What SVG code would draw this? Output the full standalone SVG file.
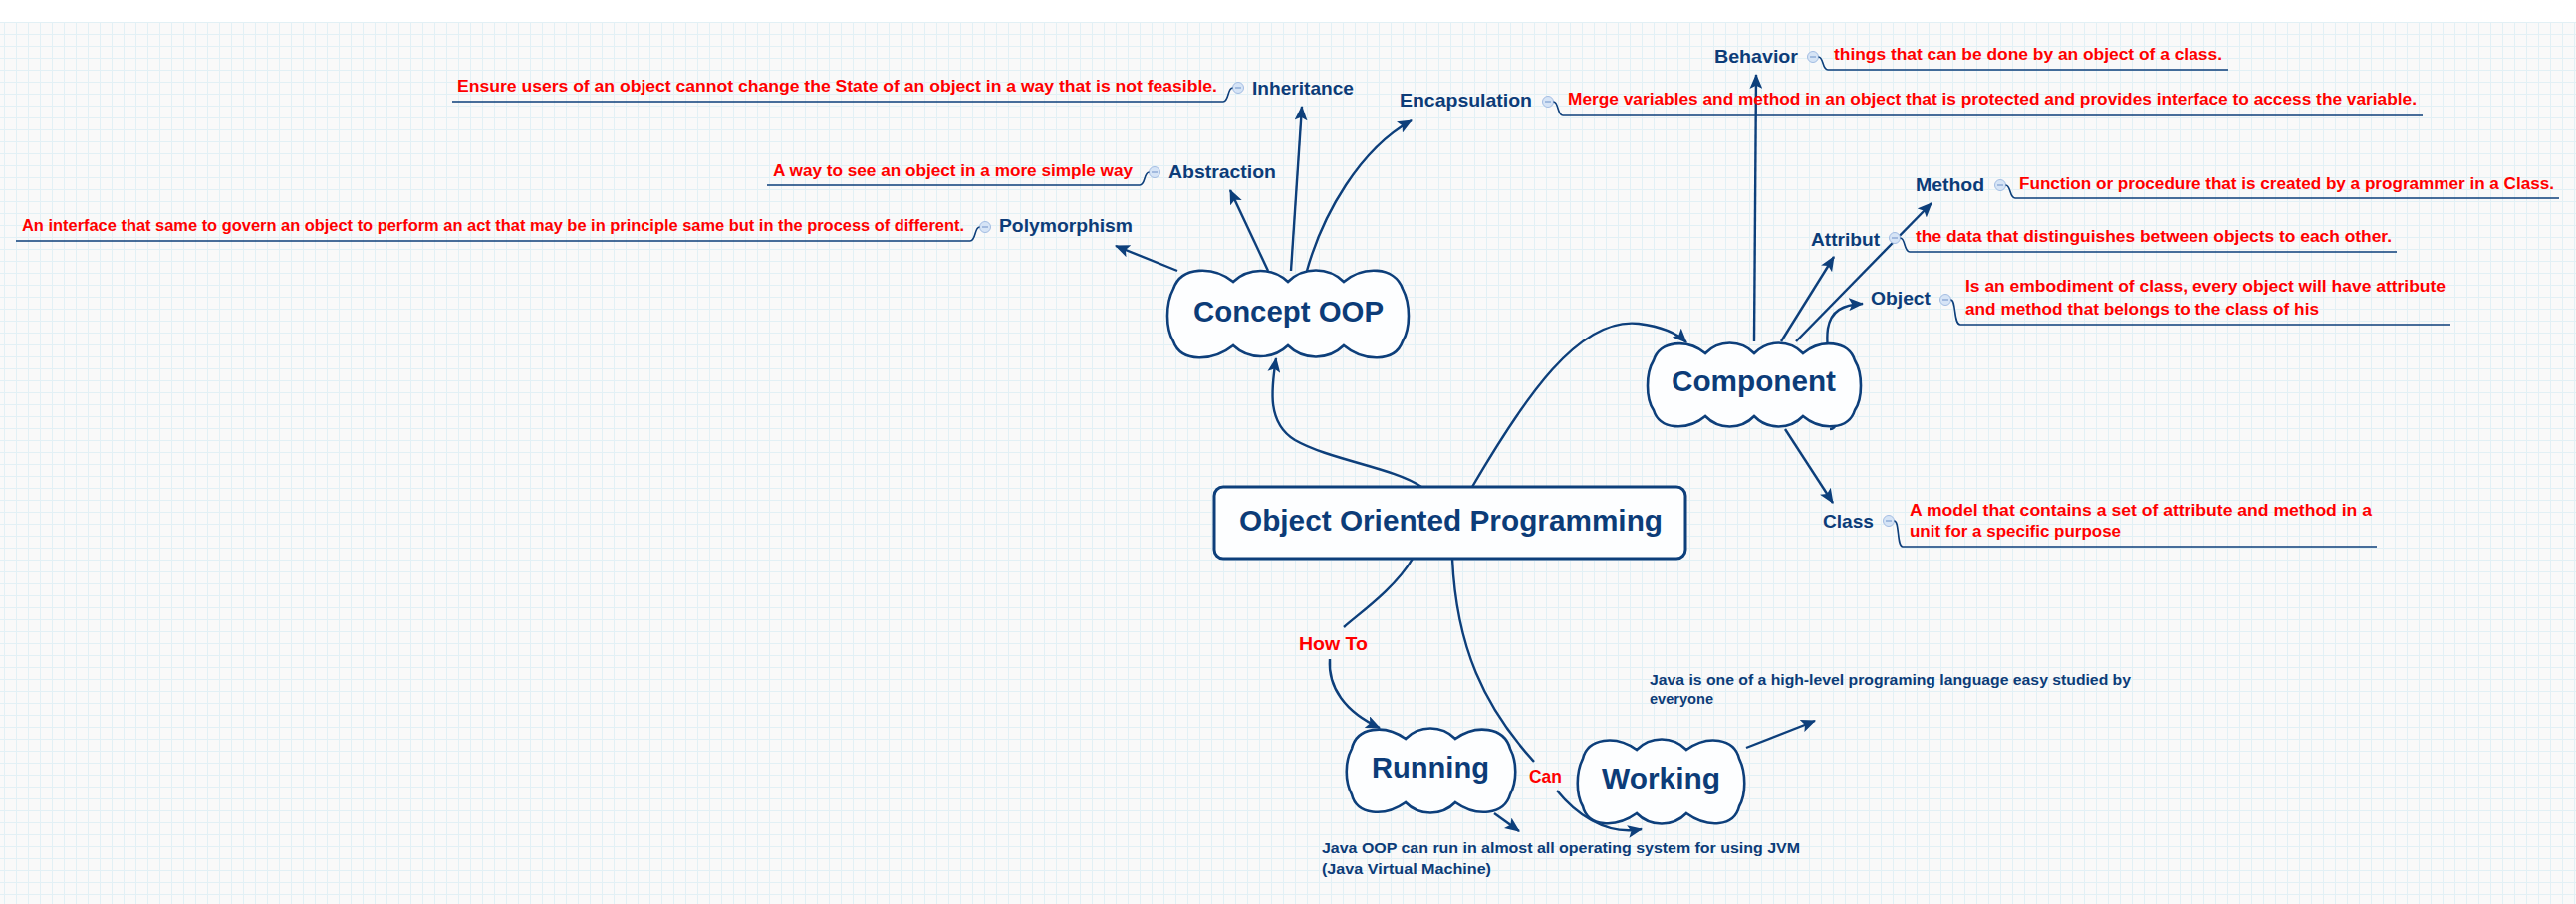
<svg xmlns="http://www.w3.org/2000/svg" width="2586" height="908" viewBox="0 0 2586 908">
<style>
.edge{fill:none;stroke:#0d3f7b;stroke-width:2.4}
.ul{fill:none;stroke:#0d3f7b;stroke-width:1.6}
.cloud{fill:#fdfeff;stroke:#0d3f7b;stroke-width:2.6}
.lbl{font-family:"Liberation Sans",Arial,sans-serif;font-weight:bold;fill:#0c3c78}
.big{font-size:29px}
.sub{font-size:19px}
.desc{font-family:"Liberation Sans",Arial,sans-serif;font-weight:bold;font-size:16px;fill:#ff0000}
.bdesc{font-family:"Liberation Sans",Arial,sans-serif;font-weight:bold;font-size:15px;fill:#0c3c78}
.rlab{font-family:"Liberation Sans",Arial,sans-serif;font-weight:bold;font-size:19px;fill:#ff0000}
.tog{fill:#d6e4f6;stroke:#a3bde3;stroke-width:1}
.togm{stroke:#7f9fd0;stroke-width:1.2}
</style>
<defs>
<pattern id="grid" x="4" y="22" width="12" height="12" patternUnits="userSpaceOnUse">
<path d="M0,0.5 H12 M0.5,0 V12" fill="none" stroke="#e2f0f5" stroke-width="1"/>
</pattern>
<marker id="ah" viewBox="0 0 14 12" refX="13" refY="6" markerWidth="15" markerHeight="13" orient="auto" markerUnits="userSpaceOnUse">
<path d="M0,0 L14,6 L0,12 L3,6 Z" fill="#0d3f7b"/>
</marker>
</defs>
<rect x="0" y="0" width="2586" height="908" fill="#ffffff"/>
<rect x="0" y="22" width="2586" height="886" fill="#f9f9f9"/>
<rect x="0" y="22" width="2586" height="886" fill="url(#grid)"/>

<g id="connectors">
<path class="edge" marker-end="url(#ah)" d="M1427,489 C1400,470 1335,462 1300,442 C1272,425 1276,392 1281,360"/>
<path class="edge" marker-end="url(#ah)" d="M1478,489 C1530,400 1585,318 1645,325 C1668,328 1684,335 1693,344"/>
<path class="edge" marker-end="url(#ah)" d="M1182,272 L1120,247"/>
<path class="edge" marker-end="url(#ah)" d="M1273,272 L1235,191"/>
<path class="edge" marker-end="url(#ah)" d="M1296,272 L1307,107"/>
<path class="edge" marker-end="url(#ah)" d="M1312,272 C1328,215 1365,150 1417,121"/>
<path class="edge" marker-end="url(#ah)" d="M1761,343 L1763,75"/>
<path class="edge" marker-end="url(#ah)" d="M1788,343 L1841,258"/>
<path class="edge" marker-end="url(#ah)" d="M1803,343 L1939,204"/>
<path class="edge" marker-end="url(#ah)" d="M1837,431 Q1845,431 1843,415 C1840,380 1832,350 1835,330 C1838,312 1850,306 1870,305"/>
<path class="edge" marker-end="url(#ah)" d="M1792,431 L1840,505"/>
<path class="edge" d="M1418,561 C1400,592 1362,618 1349,630"/>
<path class="edge" marker-end="url(#ah)" d="M1335,662 C1333,690 1350,715 1385,731"/>
<path class="edge" d="M1458,561 C1462,650 1490,710 1540,765"/>
<path class="edge" marker-end="url(#ah)" d="M1563,794 C1580,815 1610,840 1648,833"/>
<path class="edge" marker-end="url(#ah)" d="M1500,817 L1525,835"/>
<path class="edge" marker-end="url(#ah)" d="M1753,751 L1822,724"/>
</g>

<g id="node-oop">
<rect x="1219" y="489" width="473" height="72" rx="9" ry="9" fill="#fdfeff" stroke="#0d3f7b" stroke-width="3"/>
<text class="lbl big" x="1244" y="533" textLength="425" lengthAdjust="spacingAndGlyphs">Object Oriented Programming</text>
</g>

<g id="node-concept">
<path class="cloud" d="M1238,283 A40,40 0 0 1 1293,283 A40,40 0 0 1 1349,283 C1368,267 1400,267 1408,290 C1416,305 1416,330 1408,343 C1400,365 1368,363 1349,347 A40,40 0 0 1 1293,347 A40,40 0 0 1 1238,347 C1218,363 1186,365 1178,343 C1170,330 1170,305 1178,290 C1186,267 1218,267 1238,283 Z"/>
<text class="lbl big" x="1198" y="323" textLength="191" lengthAdjust="spacingAndGlyphs">Concept OOP</text>
</g>

<g id="node-component">
<path class="cloud" d="M1712,355 A34,34 0 0 1 1761,355 A34,34 0 0 1 1810,355 C1828,340 1856,342 1862,362 C1870,375 1870,400 1862,412 C1856,432 1828,433 1810,418 A34,34 0 0 1 1761,418 A34,34 0 0 1 1712,418 C1694,433 1666,432 1660,412 C1652,400 1652,375 1660,362 C1666,342 1694,340 1712,355 Z"/>
<text class="lbl big" x="1678" y="393" textLength="165" lengthAdjust="spacingAndGlyphs">Component</text>
</g>

<g id="node-running">
<path class="cloud" d="M1411,742 A35,35 0 0 1 1461,742 C1482,727 1510,730 1516,752 C1523,765 1523,785 1516,798 C1510,819 1482,821 1461,806 A35,35 0 0 1 1411,806 C1390,821 1362,819 1357,798 C1350,785 1350,765 1357,752 C1362,730 1390,727 1411,742 Z"/>
<text class="lbl big" x="1377" y="781" textLength="118" lengthAdjust="spacingAndGlyphs">Running</text>
</g>

<g id="node-working">
<path class="cloud" d="M1643,753 A35,35 0 0 1 1693,753 C1714,738 1741,741 1746,762 C1753,776 1753,798 1746,810 C1741,831 1714,832 1693,817 A35,35 0 0 1 1643,817 C1622,832 1594,831 1589,810 C1582,798 1582,776 1589,762 C1594,741 1622,738 1643,753 Z"/>
<text class="lbl big" x="1608" y="792" textLength="119" lengthAdjust="spacingAndGlyphs">Working</text>
</g>

<g id="label-howto"><text class="rlab" x="1304" y="653" textLength="69" lengthAdjust="spacingAndGlyphs">How To</text></g>
<g id="label-can"><text class="rlab" x="1535" y="786" textLength="33" lengthAdjust="spacingAndGlyphs">Can</text></g>

<g id="node-inheritance">
<text class="lbl sub" x="1257" y="95" textLength="102" lengthAdjust="spacingAndGlyphs">Inheritance</text>
<circle class="tog" cx="1243" cy="88" r="5.5"/><path class="togm" d="M1240,88 H1246"/>
<path class="ul" d="M1237.5,88 C1232,88 1234,102 1228,102 L454,102"/>
<text class="desc" x="459" y="92" textLength="763" lengthAdjust="spacingAndGlyphs">Ensure users of an object cannot change the State of an object in a way that is not feasible.</text>
</g>

<g id="node-abstraction">
<text class="lbl sub" x="1173" y="179" textLength="108" lengthAdjust="spacingAndGlyphs">Abstraction</text>
<circle class="tog" cx="1159" cy="173" r="5.5"/><path class="togm" d="M1156,173 H1162"/>
<path class="ul" d="M1153.5,173 C1148,173 1150,186 1144,186 L770,186"/>
<text class="desc" x="776" y="177" textLength="361" lengthAdjust="spacingAndGlyphs">A way to see an object in a more simple way</text>
</g>

<g id="node-polymorphism">
<text class="lbl sub" x="1003" y="233" textLength="134" lengthAdjust="spacingAndGlyphs">Polymorphism</text>
<circle class="tog" cx="989" cy="228" r="5.5"/><path class="togm" d="M986,228 H992"/>
<path class="ul" d="M983.5,228 C978,228 980,242 974,242 L16,242"/>
<text class="desc" x="22" y="232" textLength="946" lengthAdjust="spacingAndGlyphs">An interface that same to govern an object to perform an act that may be in principle same but in the process of different.</text>
</g>

<g id="node-encapsulation">
<text class="lbl sub" x="1405" y="107" textLength="133" lengthAdjust="spacingAndGlyphs">Encapsulation</text>
<circle class="tog" cx="1554" cy="102" r="5.5"/><path class="togm" d="M1551,102 H1557"/>
<path class="ul" d="M1559.5,102 C1565,102 1563,116 1569,116 L2432,116"/>
<text class="desc" x="1574" y="105" textLength="852" lengthAdjust="spacingAndGlyphs">Merge variables and method in an object that is protected and provides interface to access the variable.</text>
</g>

<g id="node-behavior">
<text class="lbl sub" x="1721" y="63" textLength="84" lengthAdjust="spacingAndGlyphs">Behavior</text>
<circle class="tog" cx="1820" cy="57" r="5.5"/><path class="togm" d="M1817,57 H1823"/>
<path class="ul" d="M1825.5,57 C1831,57 1829,70 1835,70 L2237,70"/>
<text class="desc" x="1841" y="60" textLength="390" lengthAdjust="spacingAndGlyphs">things that can be done by an object of a class.</text>
</g>

<g id="node-method">
<text class="lbl sub" x="1923" y="192" textLength="69" lengthAdjust="spacingAndGlyphs">Method</text>
<circle class="tog" cx="2008" cy="186" r="5.5"/><path class="togm" d="M2005,186 H2011"/>
<path class="ul" d="M2013.5,186 C2019,186 2017,199 2023,199 L2569,199"/>
<text class="desc" x="2027" y="190" textLength="537" lengthAdjust="spacingAndGlyphs">Function or procedure that is created by a programmer in a Class.</text>
</g>

<g id="node-attribut">
<text class="lbl sub" x="1818" y="247" textLength="69" lengthAdjust="spacingAndGlyphs">Attribut</text>
<circle class="tog" cx="1902" cy="239" r="5.5"/><path class="togm" d="M1899,239 H1905"/>
<path class="ul" d="M1907.5,239 C1913,239 1911,253 1917,253 L2406,253"/>
<text class="desc" x="1923" y="243" textLength="478" lengthAdjust="spacingAndGlyphs">the data that distinguishes between objects to each other.</text>
</g>

<g id="node-object">
<text class="lbl sub" x="1878" y="306" textLength="60" lengthAdjust="spacingAndGlyphs">Object</text>
<circle class="tog" cx="1953" cy="301" r="5.5"/><path class="togm" d="M1950,301 H1956"/>
<path class="ul" d="M1958.5,301 C1964,301 1961,326 1968,326 L2460,326"/>
<text class="desc" x="1973" y="293" textLength="482" lengthAdjust="spacingAndGlyphs">Is an embodiment of class, every object will have attribute</text>
<text class="desc" x="1973" y="316" textLength="355" lengthAdjust="spacingAndGlyphs">and method that belongs to the class of his</text>
</g>

<g id="node-class">
<text class="lbl sub" x="1830" y="530" textLength="51" lengthAdjust="spacingAndGlyphs">Class</text>
<circle class="tog" cx="1896" cy="523" r="5.5"/><path class="togm" d="M1893,523 H1899"/>
<path class="ul" d="M1901.5,523 C1907,523 1904,549 1910,549 L2386,549"/>
<text class="desc" x="1917" y="518" textLength="464" lengthAdjust="spacingAndGlyphs">A model that contains a set of attribute and method in a</text>
<text class="desc" x="1917" y="539" textLength="212" lengthAdjust="spacingAndGlyphs">unit for a specific purpose</text>
</g>

<g id="note-running">
<text class="bdesc" x="1327" y="857" textLength="480" lengthAdjust="spacingAndGlyphs">Java OOP can run in almost all operating system for using JVM</text>
<text class="bdesc" x="1327" y="878" textLength="170" lengthAdjust="spacingAndGlyphs">(Java Virtual Machine)</text>
</g>

<g id="note-working">
<text class="bdesc" x="1656" y="688" textLength="483" lengthAdjust="spacingAndGlyphs">Java is one of a high-level programing language easy studied by</text>
<text class="bdesc" x="1656" y="707" textLength="64" lengthAdjust="spacingAndGlyphs">everyone</text>
</g>
</svg>
